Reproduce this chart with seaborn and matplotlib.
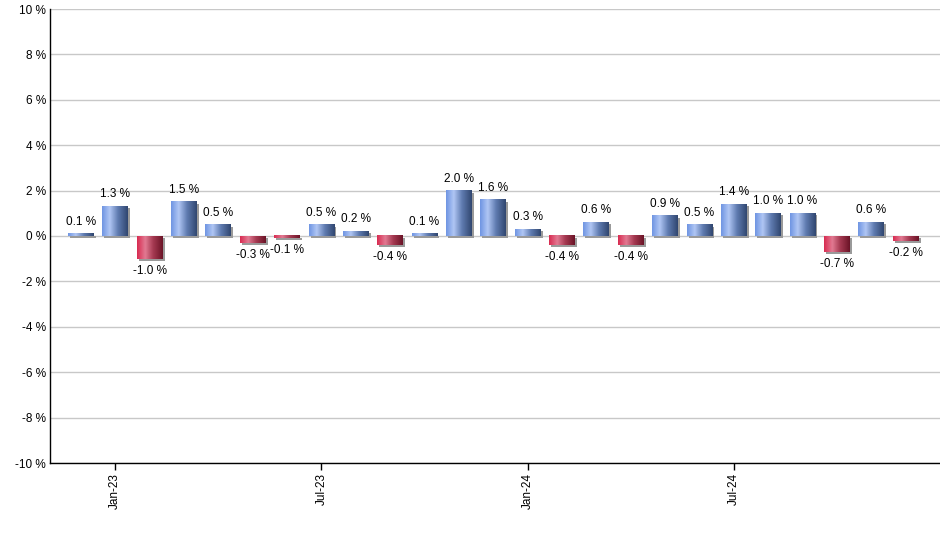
import numpy as np
import pandas as pd
import matplotlib
matplotlib.use("Agg")
import matplotlib.pyplot as plt
import seaborn as sns
from matplotlib.colors import LinearSegmentedColormap
import matplotlib.transforms as mtransforms
from matplotlib.patches import Rectangle

months = ["Dec-22", "Jan-23", "Feb-23", "Mar-23", "Apr-23", "May-23", "Jun-23",
          "Jul-23", "Aug-23", "Sep-23", "Oct-23", "Nov-23", "Dec-23", "Jan-24",
          "Feb-24", "Mar-24", "Apr-24", "May-24", "Jun-24", "Jul-24", "Aug-24",
          "Sep-24", "Oct-24", "Nov-24", "Dec-24"]
values = [0.1, 1.3, -1.0, 1.5, 0.5, -0.3, -0.1, 0.5, 0.2, -0.4, 0.1, 2.0, 1.6,
          0.3, -0.4, 0.6, -0.4, 0.9, 0.5, 1.4, 1.0, 1.0, -0.7, 0.6, -0.2]
tick_months = ["Jan-23", "Jul-23", "Jan-24", "Jul-24"]
y_ticks = [-10, -8, -6, -4, -2, 0, 2, 4, 6, 8, 10]

df = pd.DataFrame({"month": months, "value": values})
df["sign"] = np.where(df["value"] >= 0, "pos", "neg")

sns.set_theme(style="white")
plt.rcParams["font.family"] = ["Liberation Sans", "DejaVu Sans"]

fig = plt.figure(figsize=(9.4, 5.5), dpi=100)
ax = fig.add_axes([50 / 940, (550 - 463) / 550, 890 / 940, (463 - 9) / 550])

sns.barplot(data=df, x="month", y="value", hue="sign",
            palette={"pos": "#6f8fd0", "neg": "#c83050"},
            width=0.75, dodge=False, legend=False, ax=ax, zorder=3)

blue_cmap = LinearSegmentedColormap.from_list(
    "b", [(0, "#6e94e2"), (0.3, "#b0c6f4"), (0.62, "#5f7bb0"), (1, "#30466f")])
red_cmap = LinearSegmentedColormap.from_list(
    "r", [(0, "#d82a50"), (0.32, "#e27a92"), (0.62, "#a63a52"), (1, "#6a1326")])
grad = np.linspace(0, 1, 256).reshape(1, -1)

shadow_off = mtransforms.ScaledTranslation(2 / 100, -2 / 100, fig.dpi_scale_trans)

for p in list(ax.patches):
    x0, y0 = p.get_x(), p.get_y()
    w, h = p.get_width(), p.get_height()
    if h == 0 and w == 0:
        continue
    ybot, ytop = min(y0, y0 + h), max(y0, y0 + h)
    cmap = red_cmap if ytop <= 0 else blue_cmap
    p.set_visible(False)
    sh = Rectangle((x0, ybot), w, ytop - ybot, facecolor="#9a9a9a",
                   edgecolor="none", zorder=2,
                   transform=ax.transData + shadow_off)
    ax.add_patch(sh)
    ax.imshow(grad, cmap=cmap, extent=(x0, x0 + w, ybot, ytop),
              aspect="auto", zorder=3, interpolation="bilinear")

for i, v in enumerate(values):
    off = 12 * 0.72 if v >= 0 else -12 * 0.72
    ax.annotate(f"{v:.1f} %", xy=(i, v), xytext=(0, off),
                textcoords="offset points", ha="center", va="center",
                fontsize=8.5, color="#000000", zorder=5)

ax.set_xlim(-0.9, 25.0)
ax.set_ylim(-10, 10)
ax.set_yticks(y_ticks)
ax.set_yticklabels([f"{t} %" for t in y_ticks])
ax.set_xticks([months.index(m) for m in tick_months])
ax.set_xticklabels(tick_months, rotation=90)
ax.set_xlabel("")
ax.set_ylabel("")
ax.yaxis.grid(True, color="#c8c8c8", linewidth=1, zorder=0)
ax.set_axisbelow(True)
ax.tick_params(axis="y", length=0, pad=3, labelsize=8.5, colors="#000000")
ax.tick_params(axis="x", length=5, width=1, direction="out", bottom=True,
               pad=2, labelsize=8.5, colors="#000000")
for s in ["top", "right"]:
    ax.spines[s].set_visible(False)
for s in ["left", "bottom"]:
    ax.spines[s].set_color("#000000")
    ax.spines[s].set_linewidth(1.0)

fig.savefig("out.png", dpi=100)
